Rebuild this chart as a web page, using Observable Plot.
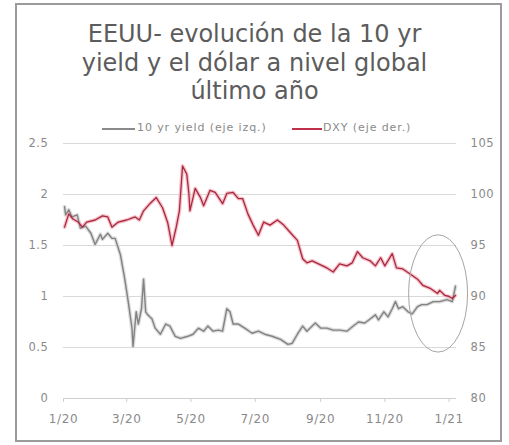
<!DOCTYPE html>
<html>
<head>
<meta charset="utf-8">
<script src="https://cdn.jsdelivr.net/npm/d3@7"></script>
<script src="https://cdn.jsdelivr.net/npm/@observablehq/plot@0.6"></script>
<style>
  html, body { margin: 0; padding: 0; background: #fff; }
  #frame { position: absolute; left: 15px; top: 3px; width: 483px; height: 435px; border: 2.5px solid #9b9b9b; }
  #title { position: absolute; left: 0; top: 20px; width: 509px; text-align: center; font-family: "DejaVu Sans", sans-serif; font-size: 24px; line-height: 28.5px; color: #5c5c5c; }
  .leg { position: absolute; top: 121px; font-family: "DejaVu Sans", sans-serif; font-size: 11px; letter-spacing: 0.9px; color: #8a8a8a; white-space: nowrap; }
  .legline { position: absolute; top: 128px; height: 1.5px; }
  #chart { position: absolute; left: 0; top: 130px; }
</style>
</head>
<body>
<div id="frame"></div>
<div id="title">EEUU- evolución de la 10 yr<br>yield y el dólar a nivel global<br>último año</div>
<div class="legline" style="left:102px;width:33px;background:#8a8a8a"></div>
<div class="leg" style="left:137px">10 yr yield (eje izq.)</div>
<div class="legline" style="left:292px;width:30px;background:#c0304a"></div>
<div class="leg" style="left:323px">DXY (eje der.)</div>
<div id="chart"></div>
<script>
// 10 yr yield (left axis, %)
const yieldDates = ["2020-01-02","2020-01-03","2020-01-06","2020-01-09","2020-01-14","2020-01-17","2020-01-22","2020-01-27","2020-01-31","2020-02-05","2020-02-07","2020-02-12","2020-02-16","2020-02-19","2020-02-24","2020-02-28","2020-03-02","2020-03-06","2020-03-07","2020-03-10","2020-03-12","2020-03-15","2020-03-17","2020-03-19","2020-03-21","2020-03-25","2020-03-28","2020-04-02","2020-04-07","2020-04-11","2020-04-16","2020-04-21","2020-04-28","2020-05-03","2020-05-08","2020-05-13","2020-05-17","2020-05-22","2020-05-27","2020-05-31","2020-06-04","2020-06-07","2020-06-10","2020-06-15","2020-06-21","2020-06-28","2020-07-04","2020-07-10","2020-07-17","2020-07-25","2020-08-01","2020-08-05","2020-08-10","2020-08-15","2020-08-19","2020-08-24","2020-08-27","2020-09-01","2020-09-07","2020-09-13","2020-09-19","2020-09-26","2020-10-02","2020-10-07","2020-10-13","2020-10-18","2020-10-23","2020-10-26","2020-10-31","2020-11-04","2020-11-08","2020-11-11","2020-11-14","2020-11-18","2020-11-23","2020-11-27","2020-12-02","2020-12-06","2020-12-11","2020-12-17","2020-12-23","2020-12-30","2021-01-04","2021-01-07"];
const yieldValues = [1.88,1.80,1.85,1.78,1.80,1.67,1.69,1.62,1.51,1.61,1.56,1.62,1.57,1.57,1.41,1.18,0.98,0.69,0.51,0.85,0.73,0.88,1.17,0.85,0.82,0.78,0.69,0.63,0.73,0.71,0.61,0.59,0.61,0.63,0.69,0.66,0.71,0.66,0.67,0.66,0.88,0.85,0.73,0.73,0.69,0.64,0.66,0.63,0.61,0.58,0.53,0.54,0.63,0.71,0.66,0.71,0.74,0.69,0.69,0.67,0.67,0.66,0.71,0.75,0.74,0.78,0.82,0.77,0.85,0.80,0.88,0.95,0.88,0.90,0.85,0.83,0.90,0.92,0.92,0.95,0.95,0.97,0.95,1.10];

// DXY (right axis)
const dxyDates = ["2020-01-02","2020-01-06","2020-01-10","2020-01-15","2020-01-19","2020-01-23","2020-01-31","2020-02-07","2020-02-12","2020-02-16","2020-02-22","2020-03-01","2020-03-09","2020-03-13","2020-03-17","2020-03-23","2020-03-29","2020-04-04","2020-04-09","2020-04-13","2020-04-17","2020-04-20","2020-04-23","2020-04-27","2020-04-29","2020-04-30","2020-05-05","2020-05-10","2020-05-13","2020-05-19","2020-05-24","2020-05-31","2020-06-04","2020-06-10","2020-06-15","2020-06-19","2020-06-24","2020-06-29","2020-07-04","2020-07-09","2020-07-15","2020-07-22","2020-07-28","2020-08-03","2020-08-10","2020-08-15","2020-08-19","2020-08-24","2020-08-30","2020-09-07","2020-09-13","2020-09-19","2020-09-26","2020-10-01","2020-10-06","2020-10-11","2020-10-18","2020-10-23","2020-10-28","2020-11-01","2020-11-08","2020-11-12","2020-11-18","2020-11-25","2020-12-02","2020-12-07","2020-12-14","2020-12-21","2020-12-23","2020-12-28","2021-01-01","2021-01-04","2021-01-07"];
const dxyValues = [96.8,98.1,97.6,97.3,96.8,97.3,97.5,97.9,97.8,96.8,97.3,97.5,97.8,97.5,98.4,99.1,99.7,98.7,97.2,95.0,96.8,98.4,102.8,102.0,100.1,98.4,100.6,99.7,98.9,100.4,100.2,99.1,100.1,100.2,99.6,99.6,98.1,97.0,96.0,97.3,97.0,97.5,97.0,96.3,95.5,93.7,93.3,93.5,93.2,92.8,92.4,93.2,93.0,93.3,94.4,93.8,93.5,93.0,93.8,93.0,94.2,92.8,92.7,92.2,91.7,91.1,90.8,90.3,90.6,90.1,90.0,89.8,90.1];

const leftTicks = [0, 0.5, 1, 1.5, 2, 2.5];
const leftLabels = ["0", "0.5", "1", "1.5", "2", "2.5"];
const rightLabels = ["80", "85", "90", "95", "100", "105"];
const xTickDates = ["2020-01-01","2020-03-01","2020-05-01","2020-07-01","2020-09-01","2020-11-01","2021-01-01"];
const xTickLabels = ["1/20","3/20","5/20","7/20","9/20","11/20","1/21"];

// highlight ellipse (annotation)
const ellipseCenter = {date: "2020-12-22", value: 1.025};
const ellipseSpan = {from: "2020-11-24", to: "2021-01-19", low: 0.45, high: 1.60};

const parse = d3.utcParse("%Y-%m-%d");
const yieldData = yieldDates.map((d, i) => ({date: parse(d), v: yieldValues[i]}));
// DXY mapped onto the left scale: 80..105 -> 0..2.5
const dxyData = dxyDates.map((d, i) => ({date: parse(d), v: (dxyValues[i] - 80) / 10}));
const xTicks = xTickDates.map(parse);

const font = "'DejaVu Sans', sans-serif";

const plot = Plot.plot({
  width: 509,
  height: 315,
  marginTop: 13,
  marginBottom: 47,
  marginLeft: 63,
  marginRight: 53,
  style: {fontFamily: font, fontSize: "11.5px", letterSpacing: "0.6px", color: "#8a8a8a", background: "transparent", overflow: "visible"},
  x: {type: "utc", domain: [parse("2020-01-01"), parse("2021-01-08")]},
  y: {domain: [0, 2.5]},
  marks: [
    Plot.gridY(leftTicks, {stroke: "#d9d9d9", strokeOpacity: 1, strokeWidth: 1}),
    Plot.ruleY([0], {stroke: "#cfcfcf", strokeWidth: 1}),
    Plot.axisX(xTicks, {label: null, tickSize: 4, tickPadding: 12, stroke: "#d0d0d0", fill: "#8a8a8a", fontSize: 12,
      tickFormat: (d) => xTickLabels[xTicks.findIndex(t => +t === +d)]}),
    Plot.axisY(leftTicks, {label: null, anchor: "left", tickSize: 0, tickPadding: 15, fill: "#8a8a8a", fontSize: 11.5,
      tickFormat: (d) => leftLabels[leftTicks.indexOf(d)]}),
    Plot.axisY(leftTicks, {label: null, anchor: "right", tickSize: 0, tickPadding: 14, fill: "#8a8a8a", fontSize: 11.5,
      tickFormat: (d) => rightLabels[leftTicks.indexOf(d)]}),
    // halos
    Plot.lineY(yieldData, {x: "date", y: "v", stroke: "#d4d4d4", strokeWidth: 3.8, strokeOpacity: 0.8}),
    Plot.lineY(dxyData, {x: "date", y: "v", stroke: "#f3b3bd", strokeWidth: 3.8, strokeOpacity: 0.8}),
    // lines
    Plot.lineY(yieldData, {x: "date", y: "v", stroke: "#828282", strokeWidth: 1.4}),
    Plot.lineY(dxyData, {x: "date", y: "v", stroke: "#a8283f", strokeWidth: 1.3})
  ]
});

// ellipse annotation placed with the plot's scales
const sx = plot.scale("x"), sy = plot.scale("y");
const cx = sx.apply(parse(ellipseCenter.date));
const cy = sy.apply(ellipseCenter.value);
const rx = (sx.apply(parse(ellipseSpan.to)) - sx.apply(parse(ellipseSpan.from))) / 2;
const ry = (sy.apply(ellipseSpan.low) - sy.apply(ellipseSpan.high)) / 2;
d3.select(plot).append("ellipse")
  .attr("cx", cx).attr("cy", cy).attr("rx", rx).attr("ry", ry)
  .attr("fill", "none").attr("stroke", "#a5a5a5").attr("stroke-width", 1);

document.getElementById("chart").appendChild(plot);
</script>
</body>
</html>
